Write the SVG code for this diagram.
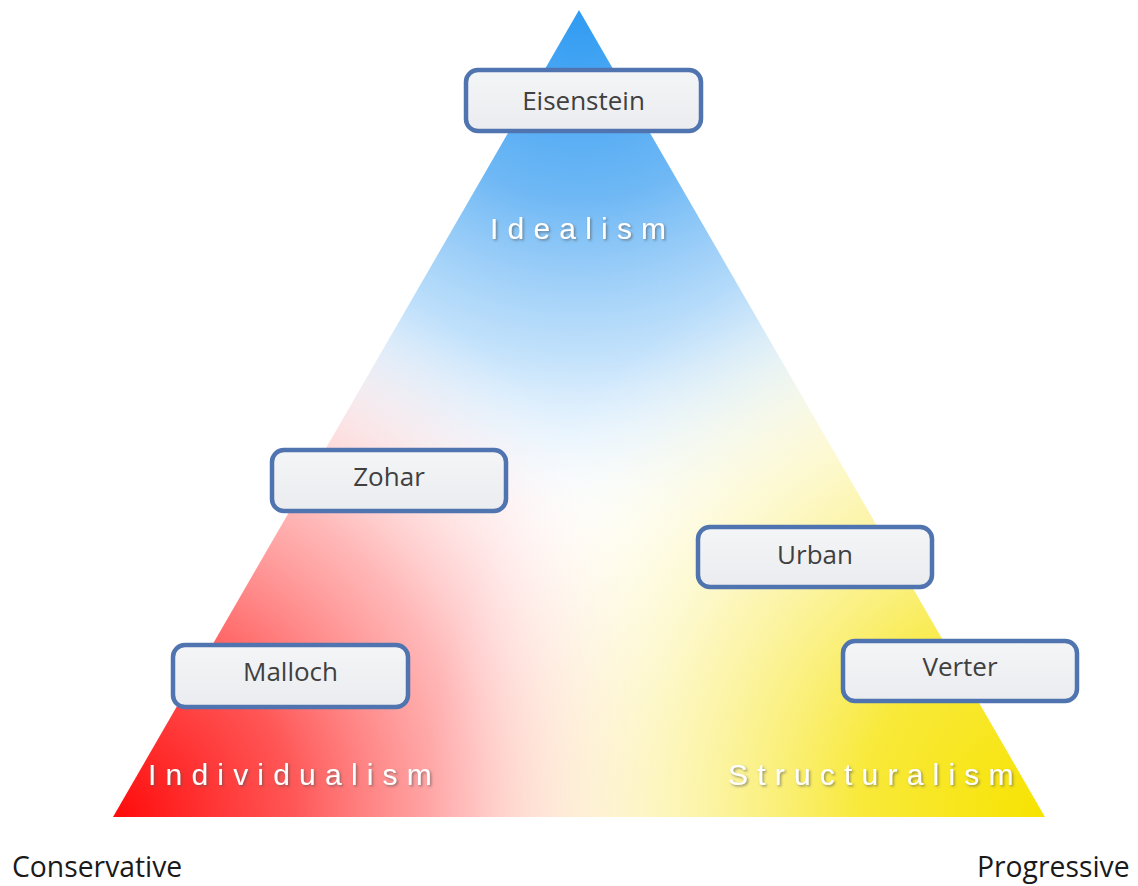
<svg xmlns="http://www.w3.org/2000/svg" width="1138" height="886" viewBox="0 0 1138 886">
<style>
.box rect{fill:url(#boxfill);stroke:#4f74b0;stroke-width:4.5}
.box text{font-family:"Open Sans",Lato,"Liberation Sans",sans-serif;font-size:26px;fill:#404040;text-anchor:middle}
.axis{font-family:"Open Sans",Lato,"Liberation Sans",sans-serif;font-size:28.3px;fill:#1a1a1a}
.region{font-family:"Liberation Sans",Arial,sans-serif;font-size:30px;fill:#ffffff;letter-spacing:9.2px;filter:url(#shadow)}
</style>
<defs>
<linearGradient id="boxfill" x1="0" y1="0" x2="0" y2="1">
<stop offset="0" stop-color="#f4f5f7"/>
<stop offset="1" stop-color="#ebecef"/>
</linearGradient>
<radialGradient id="gBlue" gradientUnits="userSpaceOnUse" cx="579" cy="10" r="540">
<stop offset="0" stop-color="#2f9bf2" stop-opacity="1"/>
<stop offset="0.35" stop-color="#6fb8f5" stop-opacity="1"/>
<stop offset="0.65" stop-color="#b5dbfa" stop-opacity="0.8"/>
<stop offset="1" stop-color="#ffffff" stop-opacity="0"/>
</radialGradient>
<radialGradient id="gRed" gradientUnits="userSpaceOnUse" cx="113" cy="817" r="600">
<stop offset="0" stop-color="#ff0a0a" stop-opacity="1"/>
<stop offset="0.3" stop-color="#ff4d4d" stop-opacity="0.95"/>
<stop offset="0.6" stop-color="#ff9a9a" stop-opacity="0.7"/>
<stop offset="1" stop-color="#ffffff" stop-opacity="0"/>
</radialGradient>
<radialGradient id="gYellow" gradientUnits="userSpaceOnUse" cx="1045" cy="817" r="620">
<stop offset="0" stop-color="#f7e300" stop-opacity="1"/>
<stop offset="0.3" stop-color="#f8e830" stop-opacity="0.95"/>
<stop offset="0.6" stop-color="#fbf191" stop-opacity="0.65"/>
<stop offset="1" stop-color="#ffffff" stop-opacity="0"/>
</radialGradient>
<clipPath id="tri"><polygon points="579,10 113,817 1045,817"/></clipPath>
<filter id="shadow" x="-10%" y="-30%" width="120%" height="160%">
<feDropShadow dx="1.5" dy="1.5" stdDeviation="1" flood-color="#555555" flood-opacity="0.6"/>
</filter>
</defs>
<rect width="1138" height="886" fill="#ffffff"/>
<g id="triangle" clip-path="url(#tri)">
<rect x="100" y="0" width="960" height="830" fill="#ffffff"/>
<rect x="100" y="0" width="960" height="830" fill="url(#gBlue)"/>
<rect x="100" y="0" width="960" height="830" fill="url(#gRed)"/>
<rect x="100" y="0" width="960" height="830" fill="url(#gYellow)"/>
</g>
<text class="region" x="490" y="239">Idealism</text>
<text class="region" x="148" y="785">Individualism</text>
<text class="region" x="728" y="785">Structuralism</text>
<g id="connectors"></g>
<g id="eisenstein" class="box"><rect x="466" y="70" width="235" height="61" rx="12"/><text x="583.5" y="110">Eisenstein</text></g>
<g id="zohar" class="box"><rect x="272" y="450" width="234" height="61" rx="12"/><text x="389" y="486">Zohar</text></g>
<g id="urban" class="box"><rect x="698" y="527" width="234" height="60" rx="12"/><text x="815" y="564">Urban</text></g>
<g id="malloch" class="box"><rect x="173" y="645" width="235" height="62" rx="12"/><text x="290.5" y="681">Malloch</text></g>
<g id="verter" class="box"><rect x="843" y="641" width="234" height="60" rx="12"/><text x="960" y="676">Verter</text></g>
<text class="axis" x="12" y="877">Conservative</text>
<text class="axis" x="977" y="877">Progressive</text>
</svg>
